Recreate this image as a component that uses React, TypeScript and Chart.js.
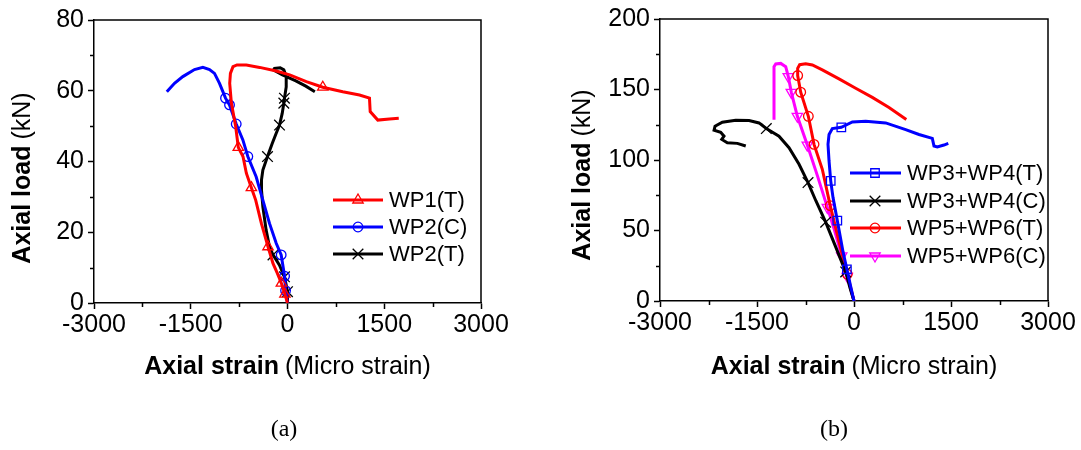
import React, { useEffect, useRef } from 'react';
import { Chart, registerables } from 'chart.js';

Chart.register(...registerables);

const SANS = "'Liberation Sans', Arial, sans-serif";
const SERIF = "'Liberation Serif', 'Times New Roman', serif";

// ---------- shared axis data ----------
const X_TICKS = [-3000, -1500, 0, 1500, 3000];
const X_MINOR = [-2250, -750, 750, 2250];

// ---------- panel (a) ----------
const A_Y_TICKS = [0, 20, 40, 60, 80];
const A_Y_MINOR = [10, 30, 50, 70];

const WP1T_X = [0, -40, -95, -160, -225, -302, -405, -493, -560, -638, -690, -763, -803, -870, -896, -885, -845, -783, -638, -432, -175, 34, 292, 547, 857, 1116, 1271, 1282, 1400, 1581, 1725];
const WP1T_Y = [0, 2.5, 5.6, 8.5, 11.2, 15.9, 22.5, 29.1, 32.6, 36.7, 41.4, 44.0, 49.8, 56.5, 62.1, 64.9, 66.8, 67.3, 67.3, 66.6, 65.6, 64.5, 62.6, 61.0, 59.7, 58.8, 57.9, 54.1, 51.7, 52.0, 52.2];
const WP1T_MARKS = [1, 2, 5, 8, 11, 23];

const WP2C_X = [0, -30, -45, -98, -175, -279, -382, -486, -615, -692, -795, -899, -961, -1054, -1132, -1209, -1312, -1442, -1623, -1752, -1871];
const WP2C_Y = [0, 3.5, 7.6, 13.6, 16.9, 22.5, 29.1, 35.7, 41.4, 46.1, 50.6, 56.0, 57.9, 62.1, 64.9, 66.0, 66.6, 66.0, 64.0, 62.1, 59.7];
const WP2C_MARKS = [1, 2, 3, 8, 10, 11, 12];

const WP2T_X = [0, 0, -20, -47, -124, -225, -279, -331, -382, -403, -403, -382, -310, -237, -175, -124, -82, -57, -47, -20, -20, -57, -113, -202, -217, -78, 129, 284, 424];
const WP2T_Y = [0, 3.2, 5.1, 7.4, 10.7, 13.6, 15.9, 20.6, 27.2, 31.9, 34.8, 37.6, 41.4, 45.1, 48.0, 50.3, 53.6, 56.5, 57.9, 61.1, 64.0, 65.9, 66.5, 66.3, 65.9, 64.5, 62.8, 61.3, 59.7];
const WP2T_MARKS = [1, 3, 5, 12, 15, 17, 18];

// ---------- panel (b) ----------
const B_Y_TICKS = [0, 50, 100, 150, 200];
const B_Y_MINOR = [25, 75, 125, 175];

const WP34T_X = [0, -50, -110, -170, -258, -325, -360, -386, -402, -386, -335, -196, -25, 181, 490, 799, 1005, 1211, 1237, 1288, 1391, 1458];
const WP34T_Y = [0, 10, 22.5, 35, 57.0, 73.5, 85.2, 99.3, 111.1, 118.1, 122.3, 123.2, 127.0, 127.5, 126.3, 121.6, 118.1, 115.3, 109.9, 109.2, 110.6, 111.8];
const WP34T_MARKS = [2, 4, 6, 11];

const WP34C_X = [0, -60, -129, -280, -438, -590, -711, -850, -1005, -1160, -1356, -1469, -1623, -1829, -2036, -2149, -2164, -2061, -2010, -2045, -1959, -1804, -1674];
const WP34C_Y = [0, 9, 20.6, 38, 55.9, 71.1, 84.0, 97.0, 108.7, 116.9, 122.3, 126.3, 128.0, 128.2, 126.8, 123.9, 121.1, 119.7, 116.9, 114.6, 112.2, 111.8, 109.9];
const WP34C_MARKS = [2, 4, 6, 10];

const WP56T_X = [0, -104, -185, -368, -490, -618, -706, -824, -871, -871, -840, -747, -644, -490, -232, 26, 283, 541, 809];
const WP56T_Y = [0, 19.0, 33.6, 67.6, 93.4, 111.1, 131.0, 148.1, 159.9, 165.0, 167.6, 168.3, 167.4, 163.9, 157.5, 150.9, 144.4, 137.3, 128.7];
const WP56T_MARKS = [1, 3, 5, 6, 7, 8];

const WP56C_X = [0, -104, -190, -300, -412, -560, -722, -876, -969, -1016, -1056, -1133, -1210, -1237, -1237];
const WP56C_Y = [0, 17.5, 32, 50, 66.4, 88, 110.6, 131, 148, 159.2, 166.2, 168.5, 168.1, 166.2, 128.6];
const WP56C_MARKS = [1, 2, 4, 6, 7, 8, 9];

// ---------- styling ----------
const LINE_W = 3;
const AXIS_W = 1.5;

type Series = {
  label: string;
  xs: number[];
  ys: number[];
  marks: number[];
  color: string;
  style: string;
  rotation: number;
  radius: number;
};

const PANEL_A: Series[] = [
  { label: 'WP1(T)', xs: WP1T_X, ys: WP1T_Y, marks: WP1T_MARKS, color: '#ff0000', style: 'triangle', rotation: 0, radius: 6 },
  { label: 'WP2(C)', xs: WP2C_X, ys: WP2C_Y, marks: WP2C_MARKS, color: '#0000ff', style: 'circle', rotation: 0, radius: 4.8 },
  { label: 'WP2(T)', xs: WP2T_X, ys: WP2T_Y, marks: WP2T_MARKS, color: '#000000', style: 'crossRot', rotation: 0, radius: 7.5 },
];

const PANEL_B: Series[] = [
  { label: 'WP3+WP4(T)', xs: WP34T_X, ys: WP34T_Y, marks: WP34T_MARKS, color: '#0000ff', style: 'rect', rotation: 0, radius: 6 },
  { label: 'WP3+WP4(C)', xs: WP34C_X, ys: WP34C_Y, marks: WP34C_MARKS, color: '#000000', style: 'crossRot', rotation: 0, radius: 7.5 },
  { label: 'WP5+WP6(T)', xs: WP56T_X, ys: WP56T_Y, marks: WP56T_MARKS, color: '#ff0000', style: 'circle', rotation: 0, radius: 4.8 },
  { label: 'WP5+WP6(C)', xs: WP56C_X, ys: WP56C_Y, marks: WP56C_MARKS, color: '#ff00ff', style: 'triangle', rotation: 180, radius: 6 },
];

function drawMarker(ctx: CanvasRenderingContext2D, style: string, x: number, y: number, r: number, rotation: number) {
  let rad = (rotation * Math.PI) / 180;
  ctx.beginPath();
  if (style === 'circle') {
    ctx.arc(x, y, r, 0, Math.PI * 2);
    ctx.closePath();
  } else if (style === 'triangle') {
    const T = (2 * Math.PI) / 3;
    ctx.moveTo(x + Math.sin(rad) * r, y - Math.cos(rad) * r);
    rad += T;
    ctx.lineTo(x + Math.sin(rad) * r, y - Math.cos(rad) * r);
    rad += T;
    ctx.lineTo(x + Math.sin(rad) * r, y - Math.cos(rad) * r);
    ctx.closePath();
  } else if (style === 'rect') {
    const s = r * Math.SQRT1_2;
    ctx.rect(x - s, y - s, 2 * s, 2 * s);
  } else if (style === 'crossRot') {
    rad += Math.PI / 4;
    const xo = Math.cos(rad) * r;
    const yo = Math.sin(rad) * r;
    ctx.moveTo(x - xo, y - yo);
    ctx.lineTo(x + xo, y + yo);
    ctx.moveTo(x + yo, y - xo);
    ctx.lineTo(x - yo, y + xo);
  }
  ctx.stroke();
}

type Layout = {
  width: number;
  padTop: number;
  padRight: number;
  yAxisW: number;
  xAxisH: number;
  yTitleX: number;
  yTitleY: number;
  xTitleY: number;
  legLine: [number, number];
  legMarkX: number;
  legTextX: number;
  legRows: number[];
};

function makeDecor(series: Series[], yMinor: number[], L: Layout) {
  return {
    id: 'decor',
    afterDraw(chart: any) {
      const { ctx, chartArea: ca, scales } = chart;
      ctx.save();
      ctx.strokeStyle = '#000';
      ctx.lineWidth = AXIS_W;
      // frame (top & right)
      ctx.beginPath();
      ctx.moveTo(ca.left, ca.top);
      ctx.lineTo(ca.right, ca.top);
      ctx.lineTo(ca.right, ca.bottom);
      ctx.stroke();
      // minor ticks
      ctx.beginPath();
      X_MINOR.forEach((v) => {
        const px = Math.round(scales.x.getPixelForValue(v)) + 0.5;
        ctx.moveTo(px, ca.bottom);
        ctx.lineTo(px, ca.bottom + 4);
      });
      yMinor.forEach((v) => {
        const py = Math.round(scales.y.getPixelForValue(v)) + 0.5;
        ctx.moveTo(ca.left, py);
        ctx.lineTo(ca.left - 4, py);
      });
      ctx.stroke();

      // axis titles (bold + regular)
      const bold = `bold 25px ${SANS}`;
      const reg = `25px ${SANS}`;
      const gap = 6;
      ctx.fillStyle = '#000';
      ctx.textBaseline = 'middle';
      ctx.textAlign = 'left';
      // x title
      ctx.font = bold;
      const xb = ctx.measureText('Axial strain').width;
      ctx.font = reg;
      const xr = ctx.measureText('(Micro strain)').width;
      const cx = (ca.left + ca.right) / 2;
      const sx = cx - (xb + gap + xr) / 2;
      ctx.font = bold;
      ctx.fillText('Axial strain', sx, L.xTitleY);
      ctx.font = reg;
      ctx.fillText('(Micro strain)', sx + xb + gap, L.xTitleY);
      // y title
      ctx.save();
      ctx.translate(L.yTitleX, L.yTitleY);
      ctx.rotate(-Math.PI / 2);
      ctx.font = bold;
      const yb = ctx.measureText('Axial load').width;
      ctx.font = reg;
      const yr = ctx.measureText('(kN)').width;
      const sy = -(yb + gap + yr) / 2;
      ctx.font = bold;
      ctx.fillText('Axial load', sy, 0);
      ctx.font = reg;
      ctx.fillText('(kN)', sy + yb + gap, 0);
      ctx.restore();

      // legend
      ctx.font = `22px ${SANS}`;
      series.forEach((s, i) => {
        const y = L.legRows[i];
        ctx.strokeStyle = s.color;
        ctx.lineWidth = LINE_W;
        ctx.beginPath();
        ctx.moveTo(L.legLine[0], y);
        ctx.lineTo(L.legLine[1], y);
        ctx.stroke();
        ctx.lineWidth = 1.3;
        drawMarker(ctx, s.style, L.legMarkX, y, s.radius, s.rotation);
        ctx.fillStyle = '#000';
        ctx.fillText(s.label, L.legTextX, y + 1);
      });
      ctx.restore();
    },
  };
}

function buildChart(canvas: HTMLCanvasElement, series: Series[], yTicks: number[], yMinor: number[], L: Layout) {
  const datasets = series.map((s) => ({
    label: s.label,
    data: s.xs.map((x, i) => ({ x, y: s.ys[i] })),
    showLine: true,
    borderColor: s.color,
    borderWidth: LINE_W,
    backgroundColor: 'transparent',
    pointBorderColor: s.color,
    pointBackgroundColor: 'transparent',
    pointBorderWidth: 1.3,
    pointStyle: s.style,
    pointRotation: s.rotation,
    pointRadius: (c: any) => (s.marks.includes(c.dataIndex) ? s.radius : 0),
    pointHoverRadius: (c: any) => (s.marks.includes(c.dataIndex) ? s.radius : 0),
    tension: 0,
  }));

  const tickFont = { family: SANS, size: 25 };
  const fmt = (v: any) => String(v);
  return new Chart(canvas, {
    type: 'scatter',
    data: { datasets },
    plugins: [makeDecor(series, yMinor, L)],
    options: {
      animation: false,
      responsive: false,
      devicePixelRatio: 1,
      events: [],
      layout: { padding: { top: L.padTop, right: L.padRight, left: 0, bottom: 0 } },
      plugins: { legend: { display: false }, tooltip: { enabled: false }, title: { display: false } },
      scales: {
        x: {
          type: 'linear',
          min: X_TICKS[0],
          max: X_TICKS[X_TICKS.length - 1],
          afterBuildTicks: (sc: any) => {
            sc.ticks = X_TICKS.map((v) => ({ value: v }));
          },
          afterFit: (sc: any) => {
            sc.height = L.xAxisH;
          },
          ticks: { color: '#000', font: tickFont, padding: 1, maxRotation: 0, autoSkip: false, callback: fmt },
          grid: { drawOnChartArea: false, drawTicks: true, tickLength: 6, tickColor: '#000', tickWidth: AXIS_W },
          border: { display: true, color: '#000', width: AXIS_W },
        },
        y: {
          type: 'linear',
          min: yTicks[0],
          max: yTicks[yTicks.length - 1],
          afterBuildTicks: (sc: any) => {
            sc.ticks = yTicks.map((v) => ({ value: v }));
          },
          afterFit: (sc: any) => {
            sc.width = L.yAxisW;
          },
          ticks: { color: '#000', font: tickFont, padding: 4, autoSkip: false, callback: fmt },
          grid: { drawOnChartArea: false, drawTicks: true, tickLength: 6, tickColor: '#000', tickWidth: AXIS_W },
          border: { display: true, color: '#000', width: AXIS_W },
        },
      },
    } as any,
  });
}

const LAYOUT_A: Layout = {
  width: 540,
  padTop: 20,
  padRight: 59,
  yAxisW: 94,
  xAxisH: 147,
  yTitleX: 23,
  yTitleY: 178,
  xTitleY: 367,
  legLine: [333, 383],
  legMarkX: 358,
  legTextX: 389,
  legRows: [200, 227, 254],
};

const LAYOUT_B: Layout = {
  width: 541,
  padTop: 17,
  padRight: 33,
  yAxisW: 120,
  xAxisH: 149,
  yTitleX: 43,
  yTitleY: 175,
  xTitleY: 367,
  legLine: [310, 361],
  legMarkX: 335,
  legTextX: 367,
  legRows: [173, 201, 228, 256],
};

export default function App() {
  const refA = useRef<HTMLCanvasElement | null>(null);
  const refB = useRef<HTMLCanvasElement | null>(null);

  useEffect(() => {
    const a = buildChart(refA.current!, PANEL_A, A_Y_TICKS, A_Y_MINOR, LAYOUT_A);
    const b = buildChart(refB.current!, PANEL_B, B_Y_TICKS, B_Y_MINOR, LAYOUT_B);
    return () => {
      a.destroy();
      b.destroy();
    };
  }, []);

  const caption: React.CSSProperties = {
    position: 'absolute',
    top: 412,
    width: 60,
    textAlign: 'center',
    fontFamily: SERIF,
    fontSize: 24,
    lineHeight: '32px',
    color: '#000',
  };

  return (
    <div style={{ position: 'absolute', left: 0, top: 0, width: 1081, height: 450, background: '#fff', overflow: 'hidden' }}>
      <canvas ref={refA} width={540} height={450} style={{ position: 'absolute', left: 0, top: 0, width: 540, height: 450 }} />
      <canvas ref={refB} width={541} height={450} style={{ position: 'absolute', left: 540, top: 0, width: 541, height: 450 }} />
      <div style={{ ...caption, left: 254 }}>(a)</div>
      <div style={{ ...caption, left: 804 }}>(b)</div>
    </div>
  );
}
